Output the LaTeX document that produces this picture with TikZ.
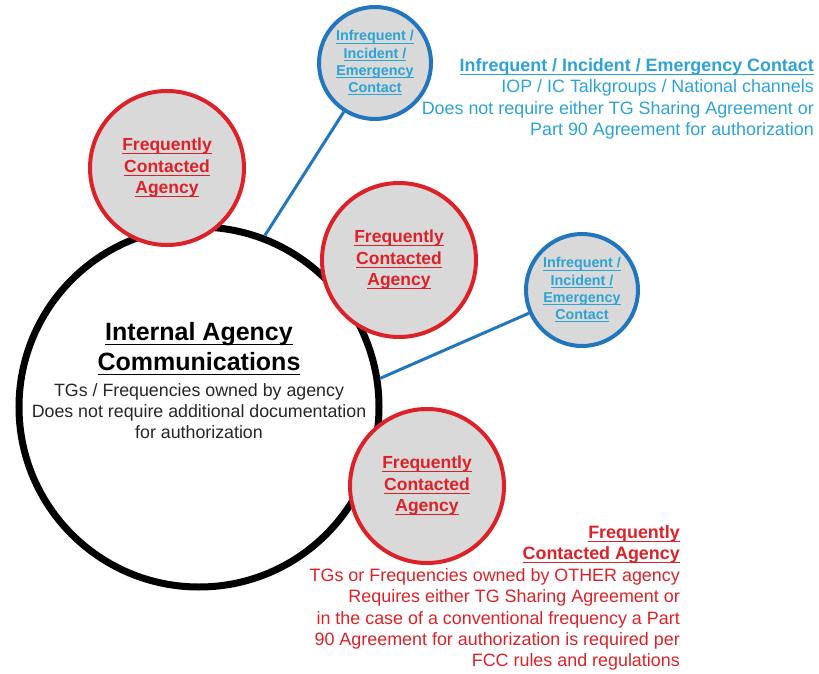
\documentclass[tikz,border=0pt]{standalone}
\usepackage{fontspec}
\setmainfont{Liberation Sans}
\definecolor{cred}{RGB}{220,34,40}
\definecolor{cgray}{RGB}{217,217,217}
\definecolor{cblue}{RGB}{34,118,190}
\definecolor{ctext}{RGB}{45,163,212}
\def\ulx#1{\leavevmode\setbox0=\hbox{#1}\rlap{\rule[-0.19em]{\wd0}{0.07em}}\box0}
\tikzset{
  bigcirc/.style={circle, draw=black, line width=7pt, fill=white, minimum size=360pt, inner sep=0pt},
  redcirc/.style={circle, draw=cred, line width=4pt, fill=cgray, minimum size=154pt, inner sep=0pt,
     text=cred, align=center, font=\fontsize{17.5}{21.5}\selectfont\bfseries},
  bluecirc/.style={circle, draw=cblue, line width=4pt, fill=cgray, minimum size=112pt, inner sep=0pt,
     text=ctext, align=center, font=\fontsize{14.3}{17.3}\selectfont\bfseries},
  link/.style={draw=cblue, line width=3pt},
  desc/.style={inner sep=0pt, font=\fontsize{17.9}{21.4}\selectfont}
}
\begin{document}
\begin{tikzpicture}[x=1pt,y=-1pt]
\useasboundingbox (0,0) rectangle (819,674);
\node[bigcirc] (main) at (199,407) {};
\node[inner sep=0pt, align=center, font=\fontsize{25}{30}\selectfont\bfseries] (maintitle) at (199,349)
  {\ulx{Internal Agency}\\\ulx{Communications}};
\node[desc, align=center, text=black!85, font=\fontsize{17.8}{21.3}\selectfont] (maintext) at (199,411)
  {TGs / Frequencies owned by agency\\Does not require additional documentation\\for authorization};
\node[bluecirc] (blue1) at (375,63) {\ulx{Infrequent /}\\\ulx{Incident /}\\\ulx{Emergency}\\\ulx{Contact}};
\node[bluecirc] (blue2) at (582,290) {\ulx{Infrequent /}\\\ulx{Incident /}\\\ulx{Emergency}\\\ulx{Contact}};
\draw[link] (main.69) -- (blue1);
\draw[link] (main.9) -- (blue2);
\node[redcirc] (red1) at (167,168) {\ulx{Frequently}\\\ulx{Contacted}\\\ulx{Agency}};
\node[redcirc] (red2) at (399,260) {\ulx{Frequently}\\\ulx{Contacted}\\\ulx{Agency}};
\node[redcirc] (red3) at (427,486) {\ulx{Frequently}\\\ulx{Contacted}\\\ulx{Agency}};
\node[desc, align=right, text=ctext, anchor=east] (bluedesc) at (814,99)
  {{\bfseries\ulx{Infrequent / Incident / Emergency Contact}}\\IOP / IC Talkgroups / National channels\\Does not require either TG Sharing Agreement or\\Part 90 Agreement for authorization};
\node[desc, align=right, text=cred, anchor=east] (reddesc) at (680,598)
  {{\bfseries\ulx{Frequently}}\\{\bfseries\ulx{Contacted Agency}}\\TGs or Frequencies owned by OTHER agency\\Requires either TG Sharing Agreement or\\in the case of a conventional frequency a Part\\90 Agreement for authorization is required per\\FCC rules and regulations};
\end{tikzpicture}
\end{document}
